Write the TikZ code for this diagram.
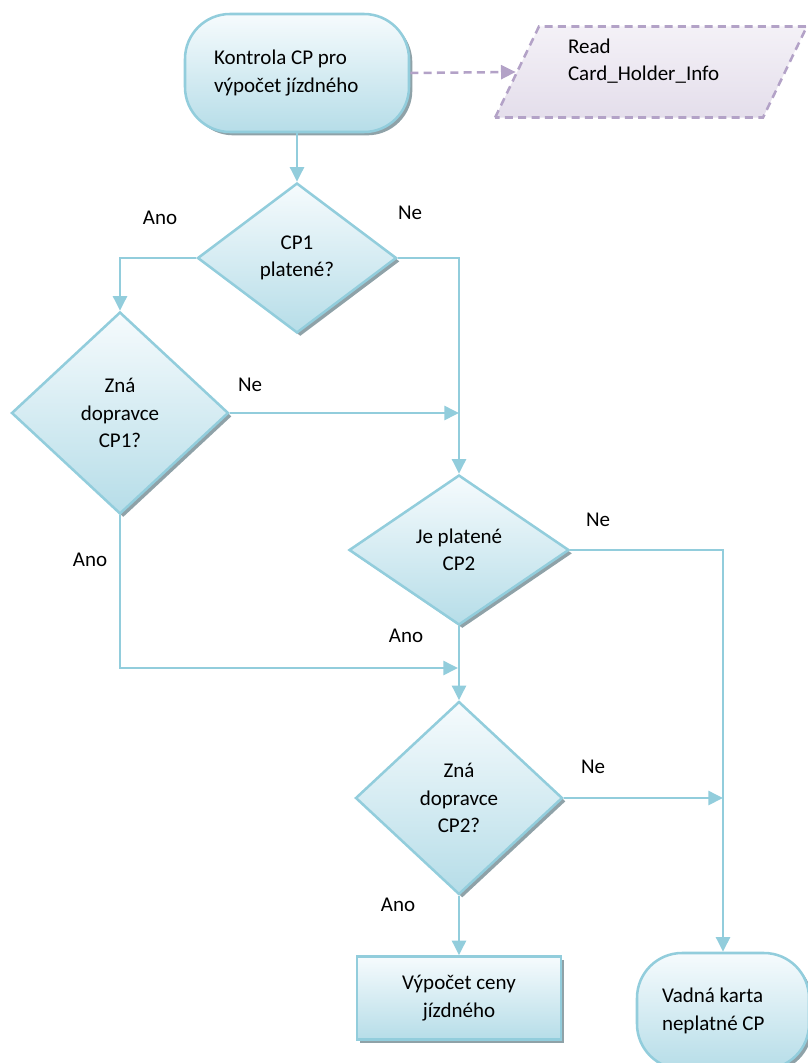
\documentclass[tikz,border=0pt]{standalone}
\usepackage{fontspec}
\setmainfont{Carlito}
\usepackage{tikz}
\usetikzlibrary{shapes}
\usetikzlibrary{arrows.meta}
\usetikzlibrary{shadows}
\usetikzlibrary{positioning}

\newlength{\pxu}
\setlength{\pxu}{0.75pt}

\definecolor{flowline}{HTML}{92CDDC}
\definecolor{flowtop}{HTML}{F6FBFD}
\definecolor{flowbot}{HTML}{B6DDE8}
\definecolor{flowshadow}{HTML}{8FA2A8}
\definecolor{ioline}{HTML}{B3A2C7}
\definecolor{iotop}{HTML}{F4F1F7}
\definecolor{iobot}{HTML}{E4DEEB}

\tikzset{
    flowfont/.style={font=\fontsize{15.75}{20.6}\selectfont},
    flowshape/.style={flowfont, draw=flowline, line width=1.9pt,
        top color=flowtop, bottom color=flowbot, inner sep=0pt, align=center,
        drop shadow={shadow xshift=2.5pt, shadow yshift=-2.5pt, fill=flowshadow, opacity=1}},
    decision/.style={flowshape, diamond},
    terminal/.style={flowshape, rectangle, rounded corners=45\pxu, align=flush left},
    process/.style={flowshape, rectangle},
    iobox/.style={flowfont, trapezium, trapezium left angle=64, trapezium right angle=116,
        trapezium stretches=true, draw=ioline, line width=1.9pt, dash pattern=on 6pt off 4pt,
        top color=iotop, bottom color=iobot, align=flush left, inner sep=0pt},
    lbl/.style={flowfont},
    flow/.style={draw=flowline, line width=1.9pt, -{Triangle[length=11pt,width=10.5pt]}},
    iolink/.style={draw=ioline, line width=1.9pt, dash pattern=on 6pt off 4pt,
        -{Triangle[length=11pt,width=10.5pt]}}
}

\begin{document}
\begin{tikzpicture}[x=0.75pt, y=-0.75pt]
    \useasboundingbox (0,0) rectangle (807,1063);

    % shapes
    \node[terminal, minimum width=224\pxu, minimum height=118\pxu, text width=166\pxu, inner xsep=29\pxu]
        (start) at (297,73) {Kontrola CP pro\\výpočet jízdného};
    \node[iobox, minimum width=312\pxu, minimum height=91\pxu, text width=166\pxu, text depth=39pt]
        (read) at (651,72) {Read\\Card\_Holder\_Info};

    \node[decision, minimum width=199\pxu, minimum height=150\pxu] (cp1) at (297,258) {CP1\\platené?};
    \node[decision, minimum width=217\pxu, minimum height=202\pxu] (zna1) at (120,413) {Zná\\dopravce\\CP1?};
    \node[decision, minimum width=220\pxu, minimum height=150\pxu] (cp2) at (459,550) {Je platené\\CP2};
    \node[decision, minimum width=207\pxu, minimum height=193\pxu] (zna2) at (459,798) {Zná\\dopravce\\CP2?};

    \node[process, minimum width=204\pxu, minimum height=83\pxu] (cena) at (459,998) {Výpočet ceny\\jízdného};
    \node[terminal, minimum width=172\pxu, minimum height=116\pxu, text width=122\pxu, inner xsep=25\pxu]
        (vadna) at (723,1011) {Vadná karta\\neplatné CP};

    % labels
    \node[lbl] (ano1) at (160,218) {Ano};
    \node[lbl] (ne1) at (410,213) {Ne};
    \node[lbl] (ne2) at (250,385) {Ne};
    \node[lbl] (ano2) at (90,560) {Ano};
    \node[lbl] (ne3) at (598,520) {Ne};
    \node[lbl] (ano3) at (406,636) {Ano};
    \node[lbl] (ne4) at (593,767) {Ne};
    \node[lbl] (ano4) at (398,905) {Ano};

    \coordinate (join2) at (458,668);

    % connectors
    \draw [iolink] (start.east) -- (read.left side);
    \draw [flow] (start.south) -- (cp1.north);
    \draw [flow] (cp1.west) -| (zna1.north);
    \draw [flow] (cp1.east) -| (cp2.north);
    \draw [flow] (zna1.east) -- (zna1.east -| cp2.north);
    \draw [flow] (zna1.south) |- (join2);
    \draw [flow] (cp2.south) -- (zna2.north);
    \draw [flow] (cp2.east) -| (vadna.north);
    \draw [flow] (zna2.east) -- (zna2.east -| vadna.north);
    \draw [flow] (zna2.south) -- (cena.north);
\end{tikzpicture}
\end{document}
